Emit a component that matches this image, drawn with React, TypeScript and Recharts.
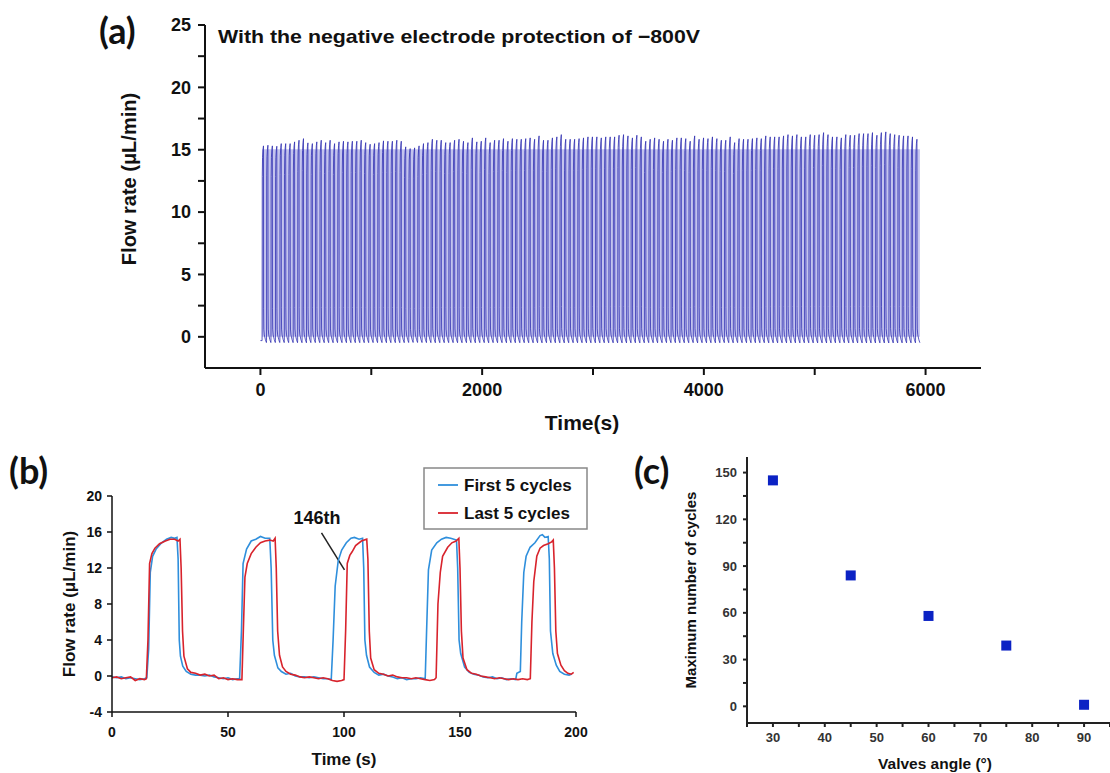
import { ComposedChart, LineChart, Line, XAxis, YAxis, ScatterChart, Scatter, ReferenceLine, ReferenceArea } from "recharts";

// (a) peak flow of every cycle, read left to right (µL/min)
const peaksA = [
  15.31, 15.36, 15.31, 15.28, 15.49, 15.49, 15.49, 15.63, 15.76, 15.89, 15.55, 15.49, 15.63, 15.76, 15.57, 15.76,
  15.49, 15.63, 15.68, 15.63, 15.68, 15.68, 15.76, 15.57, 15.44, 15.49, 15.57, 15.71, 15.68, 15.68, 15.76, 15.68,
  15.23, 15.09, 15.15, 15.31, 15.49, 15.57, 15.84, 15.76, 15.76, 15.57, 15.57, 15.76, 15.84, 15.68, 15.57, 15.95,
  15.63, 15.68, 15.95, 15.57, 15.76, 15.76, 15.89, 15.68, 15.89, 15.84, 15.84, 15.89, 15.95, 15.84, 16.11, 15.76,
  15.76, 15.95, 16.03, 16.21, 15.84, 15.84, 15.84, 15.89, 15.95, 16.03, 16.03, 16.03, 15.95, 16.03, 16.03, 16.03,
  16.16, 16.21, 16.11, 15.95, 16.16, 16.03, 15.68, 15.84, 15.95, 15.84, 15.68, 15.84, 15.76, 15.95, 15.95, 15.89,
  15.68, 16.11, 15.84, 15.95, 15.89, 16.03, 15.89, 15.76, 15.76, 16.03, 15.57, 15.89, 15.84, 15.84, 15.89, 15.95,
  15.89, 16.11, 16.03, 16.03, 16.03, 16.11, 16.21, 16.11, 16.21, 16.03, 16.03, 16.21, 16.16, 16.21, 16.37, 16.21,
  16.03, 16.03, 15.95, 16.21, 16.16, 16.16, 16.29, 16.29, 16.29, 16.37, 16.16, 16.37, 16.43, 16.29, 16.21, 16.16,
  16.11, 16.11, 16.03, 15.84,
];
const firstRiseA = 15;
const periodA = 40.1;
// one cycle, as seen in (b): seconds after the rise and fraction of the peak
const cycleOffsets = [0, 1.5, 4, 8, 12.5, 13.5, 15.5, 20, 30, 39];
const cycleFractions = [-0.02, 0.84, 0.94, 0.98, 1, 0.15, 0.04, 0.01, -0.015, -0.03];

const xTicksA = [0, 1000, 2000, 3000, 4000, 5000, 6000];
const yTicksA = [0, 2.5, 5, 7.5, 10, 12.5, 15, 17.5, 20, 22.5, 25];

// (b) first and last five cycles: [time s, flow µL/min]
const firstCycles: [number, number][] = [
  [0, -0.1], [2, -0.2], [4, -0.1], [6, -0.3], [8, -0.2], [10, -0.3], [12, -0.4], [14, -0.3], [15, -0.2],
  [15.8, 3], [16.5, 11.5], [17.5, 13.3], [19, 14.1], [21, 14.7], [23.5, 15.2], [25.5, 15.4], [27, 15.3], [28, 15.4],
  [28.5, 13], [29, 4], [29.5, 2.2], [30.5, 1.1], [32, 0.5], [34, 0.2], [36, 0.1], [38, 0.1], [40, 0], [42, 0.1],
  [44, -0.1], [46, -0.2], [48, -0.3], [50, -0.2], [52, -0.4], [54, -0.3], [55, -0.3], [55.8, 5], [56.5, 12.5],
  [58, 14.1], [60, 15], [62, 15.2], [64, 15.5], [66, 15.3], [68, 15.3], [68.6, 12], [69.3, 4], [70, 2.3], [71.5, 0.9],
  [73, 0.5], [75, 0.2], [77, 0.3], [79, 0], [81, -0.1], [83, -0.1], [85, -0.2], [87, -0.1], [89, -0.2], [91, -0.3],
  [93, -0.3], [94.5, -0.4], [95.3, 4], [96.2, 10], [97.5, 12.8], [99, 14], [101, 14.8], [103, 15.3], [104.5, 15.4],
  [106.5, 15.2], [108, 15.3], [108.5, 12], [109, 4], [109.7, 2.3], [111, 1], [113, 0.4], [115, 0.1], [117, 0.2],
  [119, 0], [121, -0.1], [123, -0.3], [125, -0.2], [127, -0.4], [129, -0.3], [131, -0.3], [133, -0.2], [135, -0.3],
  [135.6, 5], [136.4, 11.8], [137.8, 14], [140, 14.8], [142, 15.2], [144, 15.4], [146, 15.3], [148.5, 15.1], [149, 12],
  [149.6, 4], [150.3, 2.5], [152, 1], [154, 0.4], [156, 0.2], [158, 0.1], [160, -0.1], [162, -0.2], [164, -0.1],
  [166, -0.3], [168, -0.2], [170, -0.4], [172, -0.3], [174, -0.4], [174.5, 0.3], [176, 0.5], [176.6, 6], [177.5, 11.5],
  [178.5, 13.3], [180.2, 14.3], [182.3, 14.8], [184.5, 15.6], [185.5, 15.7], [186.6, 15.4], [188, 15.5], [188.5, 13],
  [189, 5], [190, 2.5], [191.5, 1.2], [193, 0.5], [195, 0.2], [197, 0.1], [198, 0.2],
];
const lastCycles: [number, number][] = [
  [0, -0.2], [2, -0.1], [4, -0.3], [6, -0.2], [8, -0.1], [10, -0.5], [12, -0.3], [14, -0.4], [14.8, -0.3],
  [15.5, 4], [16.2, 12.5], [17.2, 13.6], [18.5, 14.2], [20.5, 14.7], [23, 15], [25, 15.2], [27, 15.2], [28.5, 15],
  [29.3, 15.2], [29.8, 12], [30.4, 5], [31, 2.2], [32.5, 0.8], [34, 0.4], [36, 0.3], [38, 0.1], [40, 0.2], [42, 0],
  [44, 0.1], [46, -0.3], [48, -0.2], [50, -0.4], [52, -0.3], [54, -0.4], [56, -0.4], [56.6, 5], [57.3, 11],
  [58.3, 12.5], [60, 13.6], [62, 14.3], [64, 14.8], [66, 15], [68, 15.1], [69.5, 15], [70.3, 15.3], [70.8, 12],
  [71.4, 5], [72.2, 2.3], [73.5, 1], [75, 0.5], [77, 0.2], [79, 0.1], [81, -0.1], [83, -0.2], [85, -0.1], [87, -0.2],
  [89, -0.3], [91, -0.2], [93, -0.3], [95, -0.5], [97, -0.6], [99, -0.5], [100, -0.4], [100.7, 5], [101.4, 12.5],
  [102.5, 13.4], [103.5, 13.8], [105, 14.5], [107.5, 15], [109.8, 15.2], [110.3, 13], [110.9, 5], [111.5, 2],
  [113, 0.7], [115, 0.3], [117, 0.2], [119, 0], [121, 0.1], [123, -0.1], [125, -0.2], [127, -0.2], [129, -0.3],
  [131, -0.2], [133, -0.3], [135, -0.4], [137, -0.5], [139, -0.4], [139.7, -0.2], [140.5, 8], [141.5, 11.5],
  [142.5, 13.3], [144.7, 14.3], [146.5, 14.8], [148.3, 15], [149.5, 15.3], [150, 12], [150.6, 5], [151.3, 2],
  [153, 0.7], [155, 0.3], [157, 0.2], [159, 0], [161, -0.1], [163, -0.2], [165, -0.3], [167, -0.2], [169, -0.3],
  [171, -0.4], [173, -0.3], [175, -0.4], [177, -0.3], [179, -0.4], [180.3, -0.3], [181, 6], [181.8, 10.5],
  [183.1, 13.3], [184.5, 14.2], [186, 14.5], [188, 14.7], [189.5, 14.9], [190.2, 15.1], [190.7, 12], [191.3, 5],
  [192, 2.5], [193.5, 1.2], [195, 0.6], [196.5, 0.3], [198, 0.2], [199, 0.4],
];
const xTicksB = [0, 50, 100, 150, 200];
const yTicksB = [-4, 0, 4, 8, 12, 16, 20];

// (c) maximum cycles vs valve angle
const valveAngles = [30, 45, 60, 75, 90];
const maxCycles = [145, 84, 58, 39, 1];
const xTicksC = [25, 30, 35, 40, 45, 50, 55, 60, 65, 70, 75, 80, 85, 90, 95];
const yTicksC = [0, 15, 30, 45, 60, 75, 90, 105, 120, 135, 150];

const traceA = peaksA.flatMap((p, i) =>
  cycleOffsets.map((o, k) => ({ t: firstRiseA + i * periodA + o, v: p * cycleFractions[k] }))
);
const seriesA = [{ t: 0, v: -0.3 }, ...traceA];
// pale band left by the densely packed trace
const bandStart = traceA[0].t;
const bandEnd = traceA[traceA.length - 1].t;
const bandTop = Math.min(...peaksA) - 0.05;

const firstData = firstCycles.map(([t, v]) => ({ t, v }));
const lastData = lastCycles.map(([t, v]) => ({ t, v }));
const scatterData = valveAngles.map((x, i) => ({ x, y: maxCycles[i] }));

const FONT = "'Liberation Sans', Arial, sans-serif";
const tickA = { fontSize: 18, fontWeight: 700, fill: "#111", fontFamily: FONT };
const tickB = { fontSize: 14, fontWeight: 700, fill: "#111", fontFamily: FONT };
const tickC = { fontSize: 13, fontWeight: 700, fill: "#333", fontFamily: FONT };

const Square = (props: any) => {
  const { cx, cy } = props;
  return <rect x={cx - 5} y={cy - 5} width={10} height={10} fill="#0b22c4" />;
};

export default function App() {
  return (
    <div style={{ position: "absolute", left: 0, top: 0, width: 1110, height: 773, background: "#fff" }}>
      {/* (a) */}
      <div style={{ position: "absolute", left: 0, top: 0 }}>
        <ComposedChart width={1000} height={440} data={seriesA} margin={{ top: 25, right: 19, bottom: 42, left: 145 }}>
          <XAxis
            dataKey="t"
            type="number"
            domain={[-500, 6500]}
            ticks={xTicksA}
            interval={0}
            allowDataOverflow
            tickFormatter={(v) => (v % 2000 === 0 ? String(v) : "")}
            tick={tickA}
            tickSize={7}
            tickMargin={8}
            height={30}
            axisLine={{ stroke: "#111", strokeWidth: 2 }}
            tickLine={{ stroke: "#111", strokeWidth: 2 }}
          />
          <YAxis
            type="number"
            domain={[-2.5, 25]}
            ticks={yTicksA}
            interval={0}
            allowDataOverflow
            tickFormatter={(v) => (v % 5 === 0 ? String(v) : "")}
            tick={tickA}
            tickSize={7}
            tickMargin={7}
            width={60}
            axisLine={{ stroke: "#111", strokeWidth: 2 }}
            tickLine={{ stroke: "#111", strokeWidth: 2 }}
          />
          <ReferenceArea
            x1={bandStart}
            x2={bandEnd}
            y1={0}
            y2={bandTop}
            fill="#c4c4ee"
            fillOpacity={1}
            stroke="none"
          />
          <Line
            dataKey="v"
            type="linear"
            stroke="#3030b2"
            strokeWidth={1}
            strokeOpacity={0.8}
            dot={false}
            isAnimationActive={false}
          />
        </ComposedChart>
      </div>

      {/* (b) */}
      <div style={{ position: "absolute", left: 0, top: 440 }}>
        <LineChart width={600} height={333} margin={{ top: 56, right: 24, bottom: 36, left: 72 }}>
          <XAxis
            dataKey="t"
            type="number"
            domain={[0, 200]}
            ticks={xTicksB}
            interval={0}
            allowDataOverflow
            tick={tickB}
            tickSize={5}
            tickMargin={10}
            height={25}
            axisLine={{ stroke: "#111", strokeWidth: 1.5 }}
            tickLine={{ stroke: "#111", strokeWidth: 1.5 }}
          />
          <YAxis
            type="number"
            domain={[-4, 20]}
            ticks={yTicksB}
            interval={0}
            allowDataOverflow
            tick={tickB}
            tickSize={5}
            tickMargin={5}
            width={40}
            axisLine={{ stroke: "#111", strokeWidth: 1.5 }}
            tickLine={{ stroke: "#111", strokeWidth: 1.5 }}
          />
          <ReferenceLine
            segment={[
              { x: 90.3, y: 15.9 },
              { x: 100.2, y: 11.8 },
            ]}
            stroke="#222"
            strokeWidth={1.5}
          />
          <Line
            data={firstData}
            dataKey="v"
            type="linear"
            stroke="#2f8fdc"
            strokeWidth={1.6}
            dot={false}
            isAnimationActive={false}
          />
          <Line
            data={lastData}
            dataKey="v"
            type="linear"
            stroke="#d8232c"
            strokeWidth={1.6}
            dot={false}
            isAnimationActive={false}
          />
        </LineChart>
      </div>

      {/* (c) */}
      <div style={{ position: "absolute", left: 620, top: 440 }}>
        <ScatterChart width={490} height={333} margin={{ top: 17, right: 0, bottom: 25, left: 87 }}>
          <XAxis
            dataKey="x"
            type="number"
            domain={[25, 95]}
            ticks={xTicksC}
            interval={0}
            allowDataOverflow
            tickFormatter={(v) => (v % 10 === 0 ? String(v) : "")}
            tick={tickC}
            tickSize={4}
            tickMargin={6}
            height={25}
            axisLine={{ stroke: "#222", strokeWidth: 2 }}
            tickLine={{ stroke: "#222", strokeWidth: 2 }}
          />
          <YAxis
            dataKey="y"
            type="number"
            domain={[-10.7, 160]}
            ticks={yTicksC}
            interval={0}
            allowDataOverflow
            tickFormatter={(v) => (v % 30 === 0 ? String(v) : "")}
            tick={tickC}
            tickSize={4}
            tickMargin={6}
            width={40}
            axisLine={{ stroke: "#222", strokeWidth: 2 }}
            tickLine={{ stroke: "#222", strokeWidth: 2 }}
          />
          <Scatter data={scatterData} shape={Square} isAnimationActive={false} />
        </ScatterChart>
      </div>

      {/* titles, axis labels, legend */}
      <svg
        width={1110}
        height={773}
        style={{ position: "absolute", left: 0, top: 0, pointerEvents: "none" }}
        fontFamily={FONT}
        fontWeight={700}
        fill="#111"
      >
        <text x={99} y={44} fontFamily="Lato, sans-serif" fontSize={36}>(a)</text>
        <text x={9} y={484} fontFamily="Lato, sans-serif" fontSize={36}>(b)</text>
        <text x={634} y={484} fontFamily="Lato, sans-serif" fontSize={36}>(c)</text>

        <text x={218} y={43} fontSize={19} textLength={482} lengthAdjust="spacingAndGlyphs">
          With the negative electrode protection of −800V
        </text>
        <text x={582} y={430} fontSize={21} textAnchor="middle">Time(s)</text>
        <text x={136} y={179} fontSize={20} textAnchor="middle" transform="rotate(-90 136 179)">Flow rate (μL/min)</text>

        <text x={75} y={604} fontSize={17} textAnchor="middle" transform="rotate(-90 75 604)">Flow rate (μL/min)</text>
        <text x={344} y={765} fontSize={17} textAnchor="middle">Time (s)</text>
        <text x={317} y={524} fontSize={18} textAnchor="middle">146th</text>

        <rect x={424} y={468} width={163} height={61} fill="#fff" stroke="#888" strokeWidth={1.5} />
        <line x1={438} x2={458} y1={485} y2={485} stroke="#2f8fdc" strokeWidth={1.8} />
        <line x1={438} x2={458} y1={513} y2={513} stroke="#d8232c" strokeWidth={1.8} />
        <text x={464} y={491} fontSize={17}>First 5 cycles</text>
        <text x={464} y={519} fontSize={17}>Last 5 cycles</text>

        <text x={696} y={590} fontSize={15} textAnchor="middle" transform="rotate(-90 696 590)">Maximum number of cycles</text>
        <text x={935} y={769} fontSize={15.5} textAnchor="middle">Valves angle (°)</text>
      </svg>
    </div>
  );
}
